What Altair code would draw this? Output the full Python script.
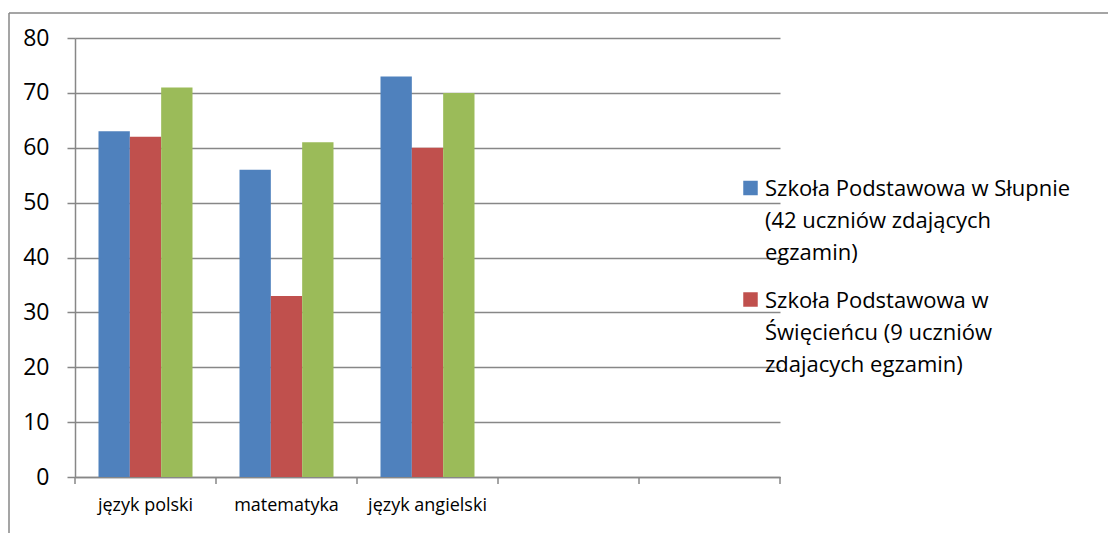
import altair as alt
import pandas as pd

# ---- data ----
subjects = ["język polski", "matematyka", "język angielski"]
axis_categories = ["język polski", "matematyka", "język angielski", " ", "  "]
series = [
    "Szkoła Podstawowa w Słupnie (42 uczniów zdających egzamin)",
    "Szkoła Podstawowa w Święcieńcu (9 uczniów zdajacych egzamin)",
    "Seria 3",
]
legend_labels = [
    "Szkoła Podstawowa w Słupnie\n(42 uczniów zdających\negzamin)",
    "Szkoła Podstawowa w\nŚwięcieńcu (9 uczniów\nzdajacych egzamin)",
]
slupno = [63, 56, 73]
swiecieniec = [62, 33, 60]
seria3 = [71, 61, 70]
colors = ["#4F81BD", "#C0504D", "#9BBB59"]
y_ticks = [0, 10, 20, 30, 40, 50, 60, 70, 80]
category_bounds = list(range(len(axis_categories) + 1))  # tick marks between categories

rows = []
for s_idx, vals in enumerate([slupno, swiecieniec, seria3]):
    for subj, v in zip(subjects, vals):
        rows.append({"subject": subj, "series": series[s_idx], "value": v})
df = pd.DataFrame(rows)

GRID = "#878787"
W, H = 705, 439

bars = alt.Chart(df).mark_bar().encode(
    x=alt.X(
        "subject:N",
        sort=axis_categories,
        scale=alt.Scale(domain=axis_categories, paddingInner=0, paddingOuter=0),
        axis=alt.Axis(
            title=None, labelAngle=0, grid=False, ticks=False,
            domainColor=GRID, domainWidth=1.5,
            labelFontSize=18, labelColor="#000000", labelPadding=19,
        ),
    ),
    xOffset=alt.XOffset(
        "series:N",
        scale=alt.Scale(domain=series, paddingInner=0, paddingOuter=0.75),
    ),
    y=alt.Y(
        "value:Q",
        scale=alt.Scale(domain=[0, 80], nice=False),
        axis=alt.Axis(
            title=None, values=y_ticks, grid=True, gridColor=GRID, gridWidth=1.5,
            domainColor=GRID, domainWidth=1.5, tickColor=GRID, tickWidth=1.5,
            tickSize=8, labelFontSize=23, labelColor="#000000", labelPadding=18,
        ),
    ),
    color=alt.Color("series:N", scale=alt.Scale(domain=series, range=colors), legend=None),
)

# category-boundary tick marks on the x axis
bound_ticks = alt.Chart(pd.DataFrame({"b": category_bounds})).mark_rule(
    color=GRID, strokeWidth=1.5
).encode(
    x=alt.X("b:Q", scale=alt.Scale(domain=[0, len(axis_categories)], nice=False, zero=False), axis=None),
    y=alt.value(H),
    y2=alt.value(H + 7),
)

# ---- legend (only the first two series are listed in the reference) ----
legend_layers = []
for i, lab in enumerate(legend_labels):
    sq = alt.Chart(pd.DataFrame({"k": [0]})).mark_square(
        size=210, color=colors[i], opacity=1
    ).encode(x=alt.value(675.5), y=alt.value(150 + i * 111.5))
    tx = alt.Chart(pd.DataFrame({"label": [lab]})).mark_text(
        align="left", baseline="top", lineBreak="\n", lineHeight=32,
        fontSize=22, color="#000000", font="Open Sans",
    ).encode(text="label:N", x=alt.value(690), y=alt.value(141 + i * 111.5))
    legend_layers += [sq, tx]

# ---- outer chart-area border (top and left edges visible) ----
border_top = alt.Chart(pd.DataFrame({"k": [0]})).mark_rule(
    color=GRID, strokeWidth=1.5
).encode(x=alt.value(-66), x2=alt.value(1100), y=alt.value(-25))
border_left = alt.Chart(pd.DataFrame({"k": [0]})).mark_rule(
    color=GRID, strokeWidth=1.5
).encode(x=alt.value(-66), y=alt.value(-25), y2=alt.value(600))

chart = alt.layer(
    bars, bound_ticks, border_top, border_left, *legend_layers
).resolve_scale(x="independent").properties(
    width=W, height=H,
    autosize=alt.AutoSizeParams(type="none"),
    padding={"left": 67, "top": 30, "right": 328, "bottom": 56},
    view=alt.ViewBackground(stroke="#ffffff", strokeWidth=0, strokeOpacity=0),
).configure(
    font="Open Sans",
    view=alt.ViewConfig(stroke="#ffffff", strokeWidth=0, strokeOpacity=0),
    style={"cell": {"stroke": "#ffffff", "strokeWidth": 0, "strokeOpacity": 0}},
)

chart.save("out.html", embed_options={"renderer": "svg", "actions": False})
